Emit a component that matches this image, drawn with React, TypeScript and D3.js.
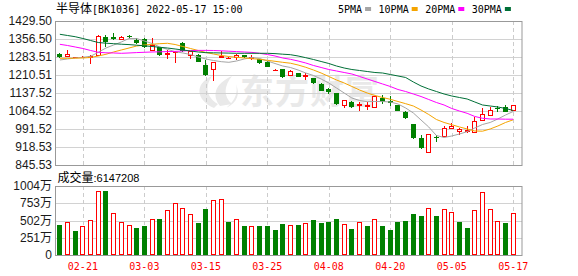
import React from 'react';
import * as d3 from 'd3';

const titleName = '半导体';
const titleRest = '[BK1036] 2022-05-17 15:00';
const volumeLabel = '成交量';
const lastVolume = 6147208;

const dates = [
  '02-16', '02-17', '02-18', '02-21', '02-22', '02-23', '02-24', '02-25', '02-28',
  '03-01', '03-02', '03-03', '03-04', '03-07', '03-08', '03-09', '03-10', '03-11', '03-14', '03-15',
  '03-16', '03-17', '03-18', '03-21', '03-22', '03-23', '03-24', '03-25', '03-28', '03-29', '03-30', '03-31',
  '04-01', '04-06', '04-07', '04-08', '04-11', '04-12', '04-13', '04-14', '04-15', '04-18', '04-19', '04-20',
  '04-21', '04-22', '04-25', '04-26', '04-27', '04-28', '04-29',
  '05-05', '05-06', '05-09', '05-10', '05-11', '05-12', '05-13', '05-16', '05-17',
];
const tickDates = ['02-21', '03-03', '03-15', '03-25', '04-08', '04-20', '05-05', '05-17'];

const opens = [1295.7, 1286, 1282, 1282, 1282, 1291.6, 1366, 1364.6, 1357.7, 1369, 1352.5, 1356.5, 1311.9, 1323, 1295, 1302, 1339, 1293, 1293, 1251, 1236, 1285, 1280, 1283, 1290, 1281, 1275, 1264, 1229, 1233.5, 1210.5, 1217, 1208, 1197, 1173, 1152, 1136, 1089, 1101, 1087, 1085, 1079.6, 1116, 1107, 1087.6, 1062, 1010, 956.3, 899.5, 959, 964.4, 994.5, 983, 984, 980.6, 1028, 1048.3, 1076, 1082, 1068.6];
const highs = [1300, 1310.7, 1285, 1287, 1290, 1374, 1374, 1379.6, 1370, 1372, 1359, 1359.3, 1359.3, 1325, 1311.9, 1309, 1345.6, 1309, 1295, 1271, 1262, 1309, 1285, 1297, 1292, 1290, 1277, 1266, 1234, 1236, 1229, 1220, 1220, 1200, 1180, 1157, 1138, 1110, 1104, 1101, 1099, 1126, 1130, 1124, 1090, 1064, 1012, 967, 971, 968, 1003, 1017, 994, 1004, 1041.5, 1078, 1082, 1083, 1089, 1090];
const lows = [1280, 1283, 1279, 1279, 1256, 1289, 1325, 1352, 1352, 1362, 1335, 1321, 1310, 1287, 1274, 1258, 1304, 1274, 1262, 1208, 1187.5, 1280, 1275, 1270, 1280, 1270, 1255, 1242, 1226, 1197, 1208, 1201, 1190, 1172, 1145, 1132, 1090, 1078, 1077, 1064, 1068, 1078, 1093, 1085, 1064, 1033, 950, 912, 895.5, 940, 960, 990, 968, 976, 975, 1025, 1046, 1062, 1059, 1063];
const closes = [1284.7, 1295.7, 1282, 1284, 1288, 1370, 1344.5, 1355, 1365.8, 1366.5, 1339, 1322.7, 1332.2, 1293, 1299.5, 1303, 1306, 1307, 1264.5, 1210.5, 1262, 1287, 1281, 1290, 1282, 1283.5, 1258, 1244, 1231, 1201, 1226.7, 1203.6, 1210.5, 1177, 1147, 1143, 1093, 1109, 1079.6, 1093, 1089, 1125.4, 1102, 1098, 1065.8, 1035, 953.8, 915.7, 970, 953, 994.5, 1005, 990, 987, 1024, 1051, 1068.6, 1071, 1061.6, 1089];
// volume in 万
const volumes = [440, 480, 349, 417, 504, 926, 931, 611, 480, 432, 393, 422, 519, 524, 655, 752, 679, 597, 470, 669, 796, 810, 480, 519, 422, 422, 422, 422, 364, 451, 432, 436, 460, 509, 470, 480, 524, 446, 378, 475, 422, 519, 422, 364, 480, 495, 597, 567, 679, 567, 664, 621, 480, 393, 650, 912, 664, 490, 466, 614.7];

const ma5 = [1271.4, 1275.4, 1279.5, 1282.3, 1286.4, 1302.6, 1320, 1332.2, 1344.4, 1358.5, 1358.5, 1348.4, 1338.3, 1324.1, 1314.7, 1305, 1299.8, 1293.7, 1283.5, 1275.4, 1269.3, 1264.5, 1262, 1267.3, 1275.4, 1281.5, 1277.4, 1267.3, 1257.2, 1247, 1241, 1230.8, 1218.6, 1208.5, 1194.3, 1178.1, 1157.8, 1137.5, 1117.3, 1107.1, 1102.3, 1103.1, 1103.1, 1101, 1093, 1076.7, 1056.5, 1028, 999.7, 965.2, 957.1, 963.2, 971.3, 980.6, 995.6, 1009.8, 1018, 1032.2, 1048.3, 1062.5];
const ma10 = [1278.3, 1278.3, 1278.7, 1279.5, 1281.5, 1287.6, 1294.5, 1303.8, 1311.9, 1320, 1328.1, 1332.2, 1335, 1337.5, 1339.1, 1334.2, 1326.1, 1318, 1309.9, 1301.8, 1295.7, 1289.6, 1285.5, 1282.3, 1279.5, 1276.6, 1274.2, 1270.1, 1266.1, 1262, 1258.4, 1251.1, 1241.8, 1230.8, 1218.6, 1204.5, 1190.3, 1178.1, 1163.9, 1149.7, 1137.5, 1127.4, 1119.3, 1112, 1103.1, 1094.2, 1084.8, 1068.6, 1050.4, 1030.1, 1018, 1009, 999.7, 991.6, 983.5, 982.6, 991.6, 1003.7, 1018, 1028.9];
const ma20 = [1335, 1330.2, 1324.1, 1318, 1309.9, 1302.6, 1300.6, 1299.8, 1298.5, 1299.8, 1301.4, 1302.6, 1303.8, 1304.6, 1305.4, 1306.2, 1307.9, 1309.5, 1310.3, 1310.3, 1309.9, 1308.7, 1307, 1305.4, 1303.8, 1302.2, 1298.5, 1293.7, 1287.6, 1279.5, 1274.2, 1267.3, 1259.2, 1249.1, 1241, 1232.8, 1226.8, 1220.7, 1214.6, 1204.5, 1194.3, 1184.2, 1174.1, 1163.9, 1151.7, 1143.6, 1133.5, 1123.3, 1111.2, 1099, 1088.9, 1074.7, 1064.5, 1055.2, 1042.3, 1035, 1032.1, 1032.1, 1031.3, 1031.3];
const ma30 = [1375.6, 1370.7, 1365.8, 1358.5, 1350.4, 1342.3, 1339.5, 1337.5, 1335.4, 1333.8, 1331.4, 1328.9, 1326.1, 1322.9, 1320, 1316, 1311.9, 1307.9, 1303.8, 1301, 1300.6, 1299.8, 1299.3, 1298.5, 1298.5, 1298.5, 1298.5, 1298.5, 1297.3, 1294.9, 1292.9, 1287.6, 1280.7, 1273.4, 1265.3, 1257.2, 1247, 1238.9, 1232.8, 1228.8, 1224.7, 1220.7, 1218.6, 1212.6, 1206.5, 1200.4, 1182.2, 1166, 1153.8, 1143.6, 1133.5, 1125.4, 1119.3, 1113.2, 1101, 1088.9, 1084.8, 1080.8, 1074.7, 1066.6];

const maNames = ['5PMA', '10PMA', '20PMA', '30PMA'];
const maSeries = [ma5, ma10, ma20, ma30];
const maColors = ['#a5a5a5', '#f5a400', '#ff00ff', '#006f37'];

const priceTicks = [1429.5, 1356.5, 1283.51, 1210.51, 1137.52, 1064.52, 991.52, 918.53, 845.53];
const volumeTicks = [0, 251, 502, 753, 1004];

const UP = '#ff0000';
const DOWN = '#008000';
const MONO = '"DejaVu Sans Mono", "Liberation Mono", monospace';
const SANS = '"Liberation Sans", Arial, sans-serif';
const CJK = '"Noto Sans CJK SC", sans-serif';

export default function App() {
  const W = 578, H = 276;
  const left = 56, right = 522;
  const pTop = 21, pBottom = 165, vTop = 186, vBottom = 255;

  const x = d3.scaleLinear().domain([-0.5, 60.14]).range([left, right]);
  const y = d3.scaleLinear().domain([d3.min(priceTicks)!, d3.max(priceTicks)!]).range([pBottom, pTop]);
  const yv = d3.scaleLinear().domain([0, d3.max(volumeTicks)!]).range([vBottom, vTop]);

  const idx = d3.range(closes.length);
  const crisp = (v: number) => Math.round(v) + 0.5;

  const line = (arr: number[]) =>
    d3.line<number>().x((_, i) => x(i)).y((d) => y(d))(arr) || '';

  const tickIdx = idx.filter((i) => tickDates.includes(dates[i]));

  // legend layout
  const legendItems: { name: string; color: string; tx: number; sx: number }[] = [];
  let cur = 338;
  maNames.forEach((n, k) => {
    const tw = n.length * 6.02;
    legendItems.push({ name: n, color: maColors[k], tx: cur, sx: cur + tw + 3 });
    cur = cur + tw + 3 + 6 + 7.5;
  });

  return (
    <svg width={W} height={H} style={{ position: 'fixed', left: 0, top: 0, background: '#fff' }}>
      <rect x={0} y={0} width={W} height={H} fill="#fff" />

      {/* watermark */}
      <g fill="#e9e9e9">
        <path d="M214 108 C196 100 194 84 212 76 C205 86 206 97 218 104 Z" />
        <path d="M220 106 C212 96 214 84 232 76 C224 86 223 96 232 104 Z" />
        <path d="M226 108 C236 100 238 92 236 84 C240 94 238 102 226 108 Z" />
        <text x={240} y={104} fontFamily={CJK} fontWeight={700} fontSize={34} letterSpacing={1}>东方财富</text>
      </g>

      {/* horizontal grids */}
      {priceTicks.map((t) => (
        <line key={'pg' + t} x1={left} x2={right} y1={crisp(y(t))} y2={crisp(y(t))} stroke="#d2d2d2" />
      ))}
      {volumeTicks.map((t) => (
        <line key={'vg' + t} x1={left} x2={right} y1={crisp(yv(t))} y2={crisp(yv(t))} stroke="#d2d2d2" />
      ))}
      {/* vertical dashed grids */}
      {tickIdx.map((i) => (
        <g key={'vx' + i}>
          <line x1={crisp(x(i))} x2={crisp(x(i))} y1={pTop} y2={pBottom} stroke="#cccccc" strokeDasharray="4,3" />
          <line x1={crisp(x(i))} x2={crisp(x(i))} y1={vTop} y2={vBottom} stroke="#cccccc" strokeDasharray="4,3" />
        </g>
      ))}

      {/* candles */}
      {idx.map((i) => {
        const cx = x(i);
        const up = closes[i] >= opens[i];
        const col = up ? UP : DOWN;
        const yo = y(opens[i]);
        const yc = y(closes[i]);
        const top = Math.round(Math.min(yo, yc));
        const bot = Math.round(Math.max(yo, yc));
        const bx = Math.round(cx - 2.5);
        return (
          <g key={'c' + i}>
            <line x1={crisp(cx - 0.5)} x2={crisp(cx - 0.5)} y1={Math.round(y(highs[i]))} y2={Math.round(y(lows[i]))} stroke={col} />
            {up ? (
              bot - top < 1 ? (
                <line x1={bx} x2={bx + 5} y1={top + 0.5} y2={top + 0.5} stroke={col} />
              ) : (
                <rect x={bx + 0.5} y={top + 0.5} width={4} height={bot - top} fill="#fff" stroke={col} />
              )
            ) : (
              <rect x={bx} y={top} width={5} height={Math.max(1, bot - top)} fill={col} />
            )}
          </g>
        );
      })}

      {/* moving averages */}
      {maSeries.map((s, k) => (
        <path key={'ma' + k} d={line(s)} fill="none" stroke={maColors[k]} strokeWidth={1} />
      ))}

      {/* volume bars */}
      {idx.map((i) => {
        const cx = x(i);
        const ref = i === 0 ? opens[0] : closes[i - 1];
        const up = closes[i] >= ref;
        const top = Math.round(yv(volumes[i]));
        const bx = Math.round(cx - 2.5);
        return up ? (
          <rect key={'v' + i} x={bx + 0.5} y={top + 0.5} width={4} height={vBottom - top - 1} fill="#fff" stroke={UP} />
        ) : (
          <rect key={'v' + i} x={bx} y={top} width={5} height={vBottom - top} fill={DOWN} />
        );
      })}

      {/* frames */}
      <rect x={left - 0.5} y={pTop + 0.5} width={right - left + 0.5} height={pBottom - pTop} fill="none" stroke="#999" />
      <rect x={left - 0.5} y={vTop + 0.5} width={right - left + 0.5} height={vBottom - vTop} fill="none" stroke="#999" />

      {/* title */}
      <text x={56} y={13} fill="#000">
        <tspan fontFamily={CJK} fontSize={12}>{titleName}</tspan>
        <tspan fontFamily={MONO} fontSize={10}>{titleRest}</tspan>
      </text>

      {/* legend */}
      {legendItems.map((it) => (
        <g key={it.name}>
          <text x={it.tx} y={13} fontFamily={MONO} fontSize={10} fill="#000">{it.name}</text>
          <rect x={it.sx} y={7} width={6} height={4} fill={it.color} />
        </g>
      ))}

      {/* price axis labels */}
      {priceTicks.map((t) => (
        <text key={'pl' + t} x={52} y={y(t) + 4} textAnchor="end" fontFamily={SANS} fontSize={12} fill="#1a1a1a">
          {t.toFixed(2)}
        </text>
      ))}

      {/* volume label */}
      <text x={57.5} y={181.5} fill="#000">
        <tspan fontFamily={CJK} fontSize={12}>{volumeLabel}</tspan>
        <tspan fontFamily={SANS} fontSize={11}>{':' + lastVolume}</tspan>
      </text>

      {/* volume axis labels */}
      {volumeTicks.map((t) => (
        <text key={'vl' + t} x={52} y={yv(t) + 4} textAnchor="end" fontSize={12} fill="#1a1a1a">
          <tspan fontFamily={SANS}>{String(t)}</tspan>
          {t > 0 ? <tspan fontFamily={CJK}>万</tspan> : null}
        </text>
      ))}

      {/* date labels */}
      {tickIdx.map((i) => (
        <text key={'dl' + i} x={x(i)} y={269.5} textAnchor="middle" fontFamily={MONO} fontSize={10} fill="#ff0000">
          {dates[i]}
        </text>
      ))}
    </svg>
  );
}
